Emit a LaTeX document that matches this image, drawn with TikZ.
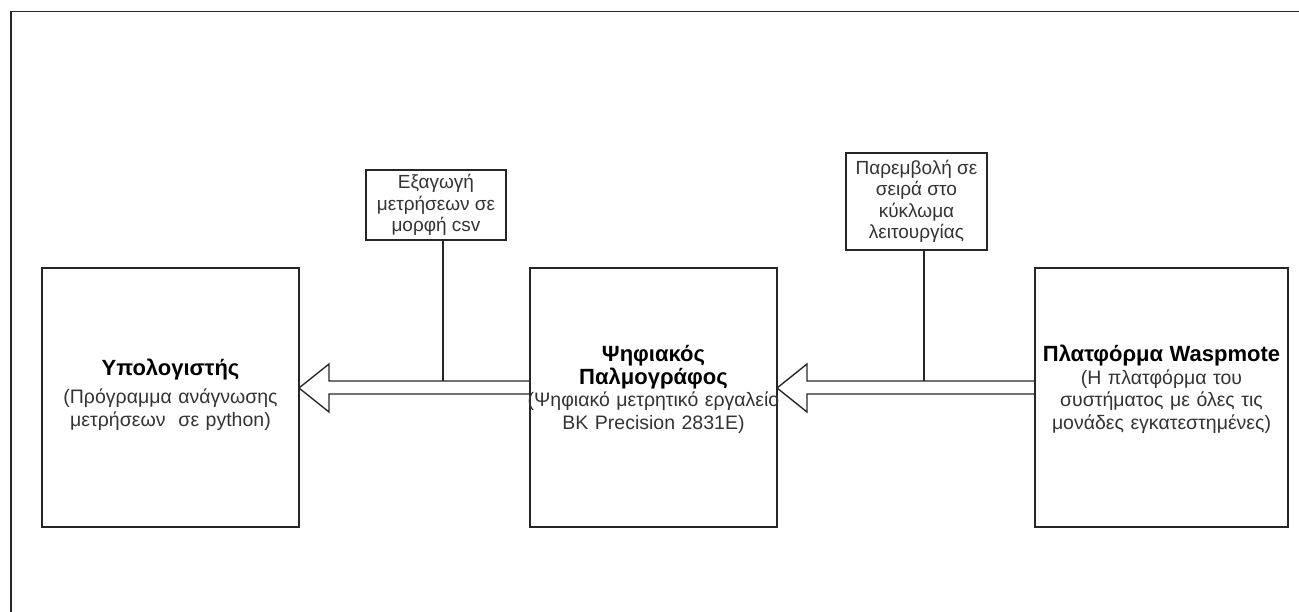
\documentclass[tikz,border=0pt]{standalone}
\usepackage{fontspec}
\setmainfont{Liberation Sans}
\usetikzlibrary{positioning, calc}

\newcommand{\hd}[1]{\textcolor{black}{\fontsize{22}{25}\selectfont\textbf{#1}}}

\begin{document}
\begin{tikzpicture} [
        x = 1pt, y = -1pt,
        node distance = 1 cm,
        block/.style = {draw=black!85, line width=1.4pt, outer sep=0pt, inner sep=0pt, minimum height=259pt, align=center, text=black!80, font=\fontsize{19.5}{22.5}\selectfont},
        note/.style = {draw=black!85, line width=1.4pt, outer sep=0pt, inner sep=0pt, align=center, text=black!80, font=\fontsize{19}{21.5}\selectfont},
        hollow/.style = {draw=black!85, line width=1.4pt, line join=miter},
        link/.style = {draw=black!85, line width=1.4pt}
    ]
    \useasboundingbox (0,0) rectangle (1299,612);

    \draw[link] (1299,11.5) -- (11,11.5) -- (11,612);

    \node[block, text width=247pt] (osc) at (653.5,397.5)
        {\hd{Ψηφιακός}\\\hd{Παλμογράφος}\\\makebox[\linewidth]{(Ψηφιακό μετρητικό εργαλείο}\\BK Precision 2831E)\par\vspace*{16pt}};
    \node[block, text width=257pt, left = 231pt of osc]  (pc)
        {\hd{Υπολογιστής}\\[6pt](Πρόγραμμα ανάγνωσης\\μετρήσεων\ \ σε python)\par\vspace*{6pt}};
    \node[block, text width=253pt, right= 258pt of osc] (wasp)
        {\hd{Πλατφόρμα Waspmote}\\(Η πλατφόρμα του\\συστήματος με όλες τις\\μονάδες εγκατεστημένες)\par\vspace*{16pt}};

    \node[note, minimum width=140pt, minimum height=70pt] (lblcsv) at (436,205)
        {Εξαγωγή\\μετρήσεων σε\\μορφή csv};
    \node[note, minimum width=141pt, minimum height=97pt] (lblser) at (916.5,201.5)
        {Παρεμβολή σε\\σειρά στο\\κύκλωμα\\λειτουργίας};

    \draw[hollow] ($(osc.west)+(0,-16.5)$) -- ($(pc.east)+(30,-16.5)$) -- ($(pc.east)+(30,-33.5)$)
        -- ($(pc.east)+(0,-9.5)$) -- ($(pc.east)+(30,14.5)$) -- ($(pc.east)+(30,-3.5)$) -- ($(osc.west)+(0,-3.5)$);
    \draw[hollow] ($(wasp.west)+(0,-16.5)$) -- ($(osc.east)+(30,-16.5)$) -- ($(osc.east)+(30,-33.5)$)
        -- ($(osc.east)+(0,-9.5)$) -- ($(osc.east)+(30,14.5)$) -- ($(osc.east)+(30,-3.5)$) -- ($(wasp.west)+(0,-3.5)$);

    \coordinate (csvjoin) at (443,381);
    \coordinate (serjoin) at (924,381);
    \draw[link] (lblcsv.south -| csvjoin) -- (csvjoin);
    \draw[link] (lblser.south -| serjoin) -- (serjoin);

\end{tikzpicture}
\end{document}
